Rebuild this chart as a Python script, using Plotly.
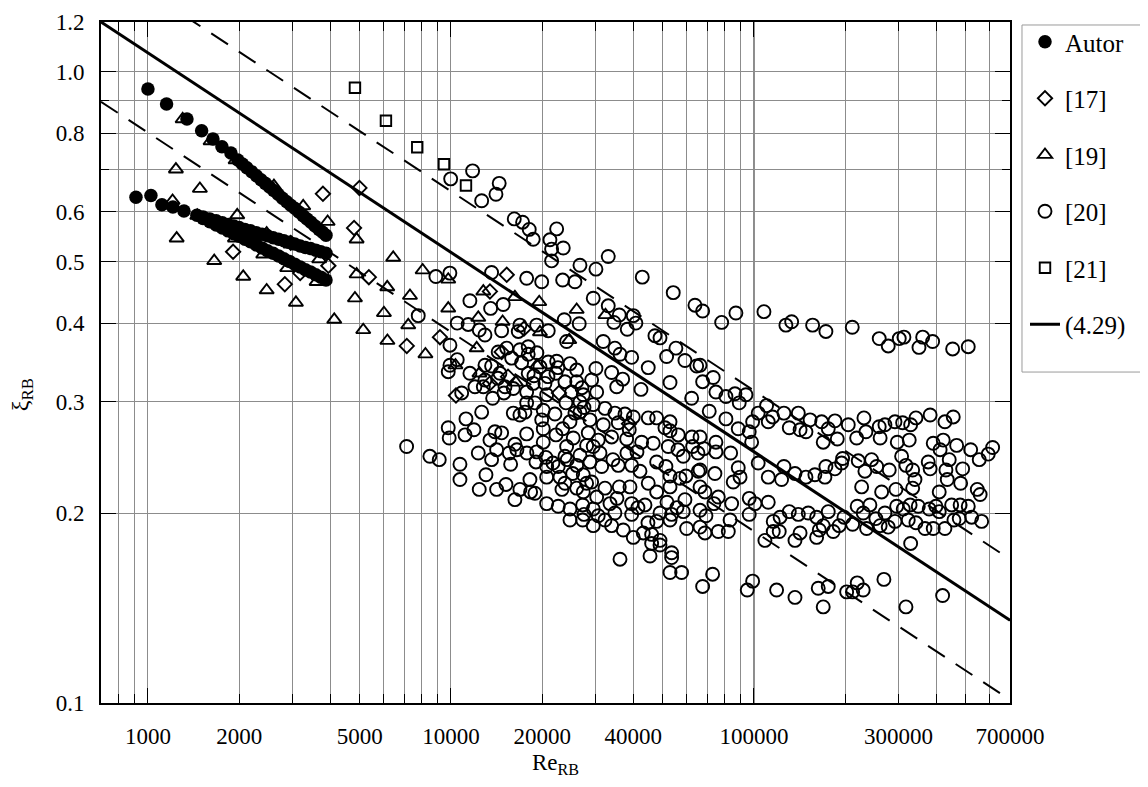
import math
import plotly.graph_objects as go

# ---------------- data ----------------
# Autor (filled circles)
re_autor = [1000, 1152, 1345, 1504, 1639, 1755, 1879,
            1980, 2050, 2120, 2200, 2280, 2360, 2440, 2520, 2600, 2690, 2780, 2870,
            2960, 3050, 3150, 3250, 3350, 3450, 3560, 3670, 3770, 3870,
            913, 1023, 1112, 1209, 1315, 1451,
            1520, 1600, 1680, 1760, 1840, 1920, 2000, 2090, 2180, 2280, 2380, 2480,
            2590, 2700, 2810, 2930, 3050, 3180, 3310, 3440, 3580, 3720, 3870,
            1520, 1600, 1680, 1760, 1840, 1920, 2000, 2090, 2180, 2280, 2380, 2480,
            2590, 2700, 2810, 2930, 3050, 3180, 3310, 3440, 3580, 3720, 3870]
xi_autor = [0.940, 0.890, 0.842, 0.807, 0.783, 0.761, 0.744,
            0.725, 0.715, 0.705, 0.695, 0.685, 0.675, 0.666, 0.657, 0.649, 0.640, 0.631, 0.623,
            0.615, 0.608, 0.600, 0.592, 0.585, 0.578, 0.570, 0.563, 0.557, 0.551,
            0.633, 0.637, 0.616, 0.611, 0.602, 0.593,
            0.589, 0.585, 0.581, 0.577, 0.573, 0.570, 0.567, 0.563, 0.560, 0.556, 0.553, 0.550,
            0.546, 0.543, 0.540, 0.537, 0.534, 0.530, 0.527, 0.525, 0.522, 0.519, 0.516,
            0.586, 0.579, 0.572, 0.566, 0.560, 0.554, 0.549, 0.543, 0.538, 0.532, 0.526, 0.521,
            0.516, 0.511, 0.506, 0.501, 0.496, 0.491, 0.486, 0.482, 0.477, 0.473, 0.468]

# [17] diamonds
re_17 = [3780, 4990, 4790, 2960, 3940, 5360, 1910, 3180, 2830, 9200, 7150,
         15280, 13450, 17420, 15430, 13450, 10390, 22730, 38690, 14700]
xi_17 = [0.641, 0.655, 0.566, 0.536, 0.493, 0.473, 0.519, 0.480, 0.461, 0.380, 0.368,
         0.477, 0.449, 0.392, 0.329, 0.321, 0.307, 0.310, 0.277, 0.360]

# [19] triangles
re_19 = [1302, 1610, 1947, 1237, 1484, 2605, 1206, 3254, 1455, 1971, 2465, 1937, 1244,
         3918, 2958, 2402, 3675, 1655, 2882, 3604, 2063, 2465, 4884, 4884, 6449, 6163,
         4822, 8066, 7324, 6010, 7230, 4120, 5135, 6171, 3079, 9797, 9797, 12310, 14810,
         19670, 19560, 26000, 32360, 24570, 16260, 12790, 12160, 10350, 12420, 16390,
         19220, 8238]
xi_19 = [0.842, 0.777, 0.725, 0.701, 0.653, 0.660, 0.625, 0.613, 0.592, 0.593, 0.555, 0.545, 0.545,
         0.579, 0.533, 0.514, 0.505, 0.502, 0.489, 0.465, 0.474, 0.451, 0.543, 0.478, 0.508, 0.456,
         0.438, 0.485, 0.442, 0.415, 0.397, 0.405, 0.390, 0.375, 0.431, 0.469, 0.422, 0.408, 0.402,
         0.387, 0.432, 0.420, 0.412, 0.376, 0.440, 0.449, 0.365, 0.343, 0.333, 0.322,
         0.343, 0.357]

# [20] circles
re_20 = [
    9980, 11790, 12630, 14080, 14430, 16180, 17240, 18130, 18690, 22330, 21220, 21490, 23480,
    21490, 26660, 30100, 23370, 25660, 29490, 8920, 9920, 13620, 17780, 19930, 11550, 14880,
    13520, 7800, 10490, 11400, 12400, 12950, 14700, 16890, 19180, 20950, 23660, 26510, 16680,
    24090,
    33050, 42800, 54160, 63880, 33050, 35940, 39980, 34510, 40780, 38180, 47130, 48980,
    67720, 78250, 87200, 107900, 127500, 133200, 156200, 172800, 211100, 259100, 277500,
    301700, 312600, 360500, 350500, 388800, 452700, 509700,
    9925, 17990, 15270, 14320, 15860, 17110, 17990, 20950, 22330, 24710, 26000, 9925, 10490,
    9797, 11550, 12000, 12790, 12950, 13620, 14510, 15080, 13730, 16060, 17990, 18690, 20430,
    22210, 23780, 26000, 25020, 27340, 17780, 20700, 26660, 10850,
    12950, 14290, 18790, 19670, 20900, 27060, 22550, 19220, 16890, 14960, 18930, 23960, 25660,
    27480,
    7140, 8520, 9150, 9797, 9870, 10710, 10710, 11210, 11910, 11130, 12310, 12400, 12630,
    13050, 13450, 13970, 14150, 13620, 14150, 15190, 14700, 15580, 15740, 16260, 16260, 16890,
    17780, 18320, 18930, 18230, 16060, 16890, 17540, 17780, 20170, 19930, 20170, 22040, 22210,
    24090, 26660, 28040, 24710, 23370, 25330, 26660, 28390, 20170, 19180, 19080, 20700, 22600,
    24200, 25220, 26000, 27340, 20700, 22900, 23780, 26000, 28040, 27340, 20700, 22600, 24710,
    27210, 27480, 24710, 27210,
    16510, 17810, 20580, 21710, 23780, 23250,
    31820, 34770, 36140, 39490, 51510, 55260, 59190, 64710, 30100, 33910, 36880, 35240, 29130,
    30270, 42380, 44790, 52850, 62290, 29490, 32240, 34770, 37530, 39980, 44790, 47740, 50850,
    52850, 56270, 28770, 31820, 35660, 38770, 33910, 30630, 42600, 46530, 52140, 29490, 38010,
    58430, 62770, 31040, 28770, 31440, 35660, 39490, 42070, 47740, 51230, 52850, 57030, 59640,
    65500, 29130, 32240, 35940, 38990, 44790, 47740, 52850, 59190, 30270, 33490, 39490, 43690,
    48980, 53500, 58430, 29490, 30630, 34770, 39490, 29490, 32240, 33910, 37040, 39980, 43130,
    45960, 47740, 48980, 52850, 59960, 45960, 48980, 45400, 53500, 53500, 36140, 52850, 57720,
    52850, 62440, 38090, 41110, 56140, 65350, 34250, 35310, 41420, 51640, 55690, 44690,
    66390, 67720, 73380, 74910, 80830, 86560, 89430, 94100, 71200, 80830, 88760, 96490, 98260,
    99010, 103300, 110100, 111500, 115300, 125600, 130800, 140100, 142000, 148500, 153200,
    167300, 169300, 175900, 185100, 188400, 204800, 218300, 230700, 234200, 259100, 260900,
    270600, 292100, 297200, 309600, 325500, 329000, 342500, 381500, 426900, 454800, 390600,
    421400,
    66390, 68390, 74910, 74910, 83780, 66390, 74340, 88760, 89990, 85440, 103300, 111500,
    123400, 125600, 136600, 148500, 158900, 171500, 172800, 185100, 194700, 196200, 220900,
    226700, 232400, 244500, 254100, 263900, 279600, 294200, 307200, 317500, 334100, 340000,
    334100, 376000, 381500, 408800, 411600, 430200, 434500, 441100, 466700, 481100, 488500,
    519100, 554000, 545800, 557900, 593300, 613500, 66390, 68910,
    66390, 69440, 66390, 68910, 76270, 82300, 83400, 76270, 73790, 84420, 96490, 100800,
    96490, 111500, 108700, 115800, 121200, 122000, 130800, 136600, 142000, 140100, 151100,
    161000, 161000, 164300, 169300, 175900, 182700, 191100, 198200, 211700, 219200, 229400,
    235400, 241400, 252600, 260900, 270600, 277500, 292100, 295800, 311000, 323100, 327700,
    342500, 348600, 366800, 378900, 390600, 398700, 408800, 426900, 449300, 457200, 479200,
    476000, 509700, 523100, 564300, 329000, 115800,
    67720, 73050, 95040, 99010, 118800, 136600, 163000, 169300, 175900, 202300, 211700,
    219200, 229400, 268500, 317500, 419500]
xi_20 = [
    0.677, 0.697, 0.625, 0.640, 0.666, 0.585, 0.578, 0.563, 0.543, 0.564, 0.542, 0.524, 0.526,
    0.502, 0.494, 0.487, 0.468, 0.465, 0.438, 0.474, 0.480, 0.481, 0.471, 0.465, 0.434, 0.428,
    0.422, 0.411, 0.400, 0.398, 0.390, 0.383, 0.389, 0.397, 0.397, 0.389, 0.405, 0.399, 0.388,
    0.374,
    0.510, 0.473, 0.447, 0.427, 0.426, 0.412, 0.411, 0.401, 0.400, 0.391, 0.382, 0.379,
    0.418, 0.401, 0.415, 0.417, 0.397, 0.402, 0.397, 0.388, 0.394, 0.378, 0.368,
    0.378, 0.380, 0.380, 0.366, 0.374, 0.364, 0.367,
    0.369, 0.367, 0.365, 0.360, 0.352, 0.346, 0.357, 0.347, 0.348, 0.345, 0.337, 0.343, 0.350,
    0.335, 0.333, 0.317, 0.317, 0.343, 0.342, 0.333, 0.317, 0.304, 0.315, 0.333, 0.321, 0.321,
    0.333, 0.323, 0.323, 0.311, 0.308, 0.311, 0.308, 0.300, 0.310,
    0.325, 0.327, 0.330, 0.341, 0.329, 0.316, 0.340, 0.359, 0.363, 0.310, 0.299, 0.299, 0.288,
    0.294,
    0.255, 0.246, 0.243, 0.273, 0.263, 0.239, 0.226, 0.282, 0.271, 0.266, 0.249, 0.218, 0.289,
    0.230, 0.261, 0.269, 0.252, 0.243, 0.218, 0.222, 0.268, 0.249, 0.239, 0.257, 0.210, 0.218,
    0.267, 0.216, 0.215, 0.226, 0.288, 0.286, 0.289, 0.299, 0.291, 0.281, 0.272, 0.287, 0.266,
    0.255, 0.247, 0.256, 0.279, 0.272, 0.263, 0.289, 0.268, 0.259, 0.250, 0.241, 0.237, 0.237,
    0.243, 0.231, 0.238, 0.230, 0.228, 0.228, 0.223, 0.219, 0.223, 0.216, 0.207, 0.205, 0.203,
    0.206, 0.199, 0.195, 0.195,
    0.252, 0.249, 0.245, 0.240, 0.246, 0.218,
    0.374, 0.365, 0.357, 0.353, 0.354, 0.365, 0.349, 0.342, 0.339, 0.334, 0.326, 0.317, 0.325,
    0.311, 0.314, 0.340, 0.322, 0.304, 0.297, 0.293, 0.288, 0.287, 0.284, 0.283, 0.283, 0.273,
    0.270, 0.266, 0.281, 0.276, 0.278, 0.271, 0.264, 0.261, 0.259, 0.258, 0.255, 0.255, 0.262,
    0.246, 0.255, 0.249, 0.241, 0.237, 0.238, 0.238, 0.233, 0.241, 0.237, 0.229, 0.227, 0.229,
    0.233, 0.224, 0.219, 0.220, 0.220, 0.223, 0.216, 0.220, 0.210, 0.212, 0.207, 0.207, 0.206,
    0.200, 0.199, 0.201, 0.203, 0.198, 0.200, 0.199, 0.191, 0.195, 0.191, 0.188, 0.183, 0.186,
    0.185, 0.194, 0.181, 0.195, 0.189, 0.179, 0.178, 0.171, 0.173, 0.170, 0.169, 0.161, 0.161,
    0.279, 0.264, 0.249, 0.250, 0.252, 0.249, 0.243, 0.211, 0.204, 0.208, 0.204, 0.193,
    0.343, 0.323, 0.328, 0.311, 0.306, 0.309, 0.299, 0.308, 0.290, 0.282, 0.272, 0.269, 0.259,
    0.279, 0.288, 0.296, 0.279, 0.284, 0.288, 0.273, 0.288, 0.271, 0.269, 0.281,
    0.279, 0.259, 0.272, 0.280, 0.262, 0.276, 0.263, 0.283, 0.269, 0.274, 0.263,
    0.276, 0.279, 0.259, 0.278, 0.261, 0.276, 0.283, 0.286, 0.279, 0.284, 0.258,
    0.261,
    0.264, 0.253, 0.259, 0.250, 0.249, 0.234, 0.231, 0.236, 0.228, 0.224, 0.240, 0.228,
    0.226, 0.237, 0.231, 0.228, 0.230, 0.228, 0.237, 0.235, 0.240, 0.244, 0.242,
    0.220, 0.233, 0.243, 0.237, 0.216, 0.234, 0.218, 0.246, 0.238, 0.234, 0.226,
    0.219, 0.241, 0.235, 0.216, 0.252, 0.234, 0.226, 0.243, 0.256, 0.223, 0.235,
    0.252, 0.243, 0.218, 0.214, 0.248, 0.254, 0.220, 0.216,
    0.202, 0.198, 0.190, 0.186, 0.187, 0.187, 0.195, 0.212, 0.207, 0.207, 0.211, 0.207,
    0.199, 0.208, 0.181, 0.187, 0.187, 0.197, 0.201, 0.181, 0.186, 0.199, 0.200,
    0.197, 0.183, 0.188, 0.191, 0.201, 0.187, 0.191, 0.197, 0.192, 0.205, 0.200,
    0.189, 0.206, 0.196, 0.191, 0.200, 0.190, 0.194, 0.205, 0.203, 0.195, 0.206,
    0.193, 0.205, 0.189, 0.203, 0.189, 0.205, 0.201, 0.189, 0.206, 0.195, 0.206,
    0.196, 0.205, 0.197, 0.194, 0.179, 0.194,
    0.153, 0.160, 0.151, 0.156, 0.151, 0.147, 0.152, 0.142, 0.153, 0.150, 0.150,
    0.155, 0.151, 0.157, 0.142, 0.148]

# [21] squares
re_21 = [4822, 6102, 7741, 9483, 11210]
xi_21 = [0.944, 0.837, 0.760, 0.714, 0.661]

# correlation (4.29) and its +/-25 % band, end points at the plot edges
fit_re = [700, 700000]
fit_xi = [1.20, 0.1352]
upper_xi = [1.50, 0.169]
lower_xi = [0.897, 0.1012]

# axis ticks
x_tickvals = [1000, 2000, 5000, 10000, 20000, 40000, 100000, 300000, 700000]
x_ticktext = ["1000", "2000", "5000", "10000", "20000", "40000", "100000", "300000", "700000"]
x_minorvals = [800, 900, 3000, 4000, 6000, 7000, 8000, 9000, 30000, 50000, 60000, 70000,
               80000, 90000, 200000, 400000, 500000, 600000]
x_decades = [1000, 10000, 100000]
y_tickvals = [0.1, 0.2, 0.3, 0.4, 0.5, 0.6, 0.8, 1.0, 1.2]
y_ticktext = ["0.1", "0.2", "0.3", "0.4", "0.5", "0.6", "0.8", "1.0", "1.2"]
y_minorvals = [0.7, 0.9]

# ---------------- figure ----------------
FONT = "Liberation Serif, Times New Roman, Times, serif"
GRID = "#8c8c8c"
X_RANGE = [math.log10(700), math.log10(700000)]
Y_RANGE = [-1.0, math.log10(1.2)]

fig = go.Figure()

open_line = dict(color="black", width=1.9)
fig.add_trace(go.Scatter(x=re_20, y=xi_20, mode="markers", name="[20]", legendgroup="g20",
                         legendrank=4,
                         marker=dict(symbol="circle-open", size=13, color="black", line=open_line)))
fig.add_trace(go.Scatter(x=re_19, y=xi_19, mode="markers", name="[19]", legendgroup="g19",
                         legendrank=3,
                         marker=dict(symbol="triangle-up-open", size=12.5, color="black", line=open_line)))
fig.add_trace(go.Scatter(x=re_17, y=xi_17, mode="markers", name="[17]", legendgroup="g17",
                         legendrank=2,
                         marker=dict(symbol="diamond-open", size=11, color="black", line=open_line)))
fig.add_trace(go.Scatter(x=re_21, y=xi_21, mode="markers", name="[21]", legendgroup="g21",
                         legendrank=5,
                         marker=dict(symbol="square-open", size=10.5, color="black", line=open_line)))
fig.add_trace(go.Scatter(x=re_autor, y=xi_autor, mode="markers", name="Autor", legendgroup="ga",
                         legendrank=1,
                         marker=dict(symbol="circle", size=13.5, color="black")))
fig.add_trace(go.Scatter(x=fit_re, y=fit_xi, mode="lines", name="(4.29)", legendgroup="gl",
                         legendrank=6, line=dict(color="black", width=3)))
fig.add_trace(go.Scatter(x=fit_re, y=upper_xi, mode="lines", showlegend=False, xaxis="x2",
                         line=dict(color="black", width=2, dash="20px,13px")))
fig.add_trace(go.Scatter(x=fit_re, y=lower_xi, mode="lines", showlegend=False, xaxis="x2",
                         line=dict(color="black", width=2, dash="20px,13px")))

tickfont = dict(family=FONT, size=23, color="black")

# the page body has an 8 px margin, so the figure is sized and offset to compensate
fig.update_layout(
    width=1140, height=779,
    margin=dict(l=93, r=138, t=14, b=84, autoexpand=False),
    paper_bgcolor="white", plot_bgcolor="white",
    font=dict(family=FONT, color="black"),
    showlegend=True,
    legend=dict(x=1.0165, y=1.0044, xanchor="left", yanchor="top",
                borderwidth=0, bgcolor="rgba(0,0,0,0)",
                font=dict(family=FONT, size=25, color="black"),
                tracegroupgap=21, itemwidth=30),
    xaxis=dict(type="log", range=X_RANGE, tickmode="array", tickvals=x_tickvals,
               ticktext=x_ticktext, ticks="inside", ticklen=9, tickwidth=1, tickcolor="black",
               showgrid=True, gridcolor=GRID, gridwidth=1, zeroline=False,
               showline=True, linewidth=2, linecolor="black", mirror="ticks",
               minor=dict(tickmode="array", tickvals=x_minorvals, ticks="inside", ticklen=9,
                          tickwidth=1, tickcolor="black", showgrid=True, gridcolor=GRID,
                          gridwidth=1),
               tickfont=tickfont, ticklabelstandoff=11, automargin=False,
               title=dict(text="Re<sub>RB</sub>", font=dict(family=FONT, size=23, color="black"),
                          standoff=6)),
    xaxis2=dict(type="log", range=X_RANGE, overlaying="x", side="bottom", anchor="y",
                tickmode="array", tickvals=x_decades, ticks="inside", ticklen=15,
                tickwidth=1, tickcolor="black", showticklabels=False, showgrid=False,
                zeroline=False, showline=False, mirror="ticks", automargin=False),
    yaxis=dict(type="log", range=Y_RANGE, tickmode="array", tickvals=y_tickvals,
               ticktext=y_ticktext, ticks="inside", ticklen=15, tickwidth=1, tickcolor="black",
               showgrid=True, gridcolor=GRID, gridwidth=1, zeroline=False,
               showline=True, linewidth=2, linecolor="black", mirror="ticks",
               minor=dict(tickmode="array", tickvals=y_minorvals, ticks="inside", ticklen=8,
                          tickwidth=1, tickcolor="black", showgrid=True, gridcolor=GRID,
                          gridwidth=1),
               tickfont=tickfont, ticklabelstandoff=10, automargin=False),
    annotations=[dict(text="ξ<sub>RB</sub>", textangle=-90, xref="paper", yref="paper",
                      x=-0.0869, y=0.452, xanchor="center", yanchor="middle", showarrow=False,
                      font=dict(family=FONT, size=24, color="black"))],
    shapes=[dict(type="line", xref="x", yref="paper", x0=100000, x1=100000, y0=0, y1=1,
                 line=dict(color="black", width=1), layer="below"),
            # legend frame
            dict(type="rect", xref="paper", yref="paper", x0=1.0132, x1=1.1485,
                 y0=0.486, y1=0.9956, line=dict(color="#9a9a9a", width=1),
                 fillcolor="rgba(0,0,0,0)", layer="above")],
)

fig.write_html("out.html")
